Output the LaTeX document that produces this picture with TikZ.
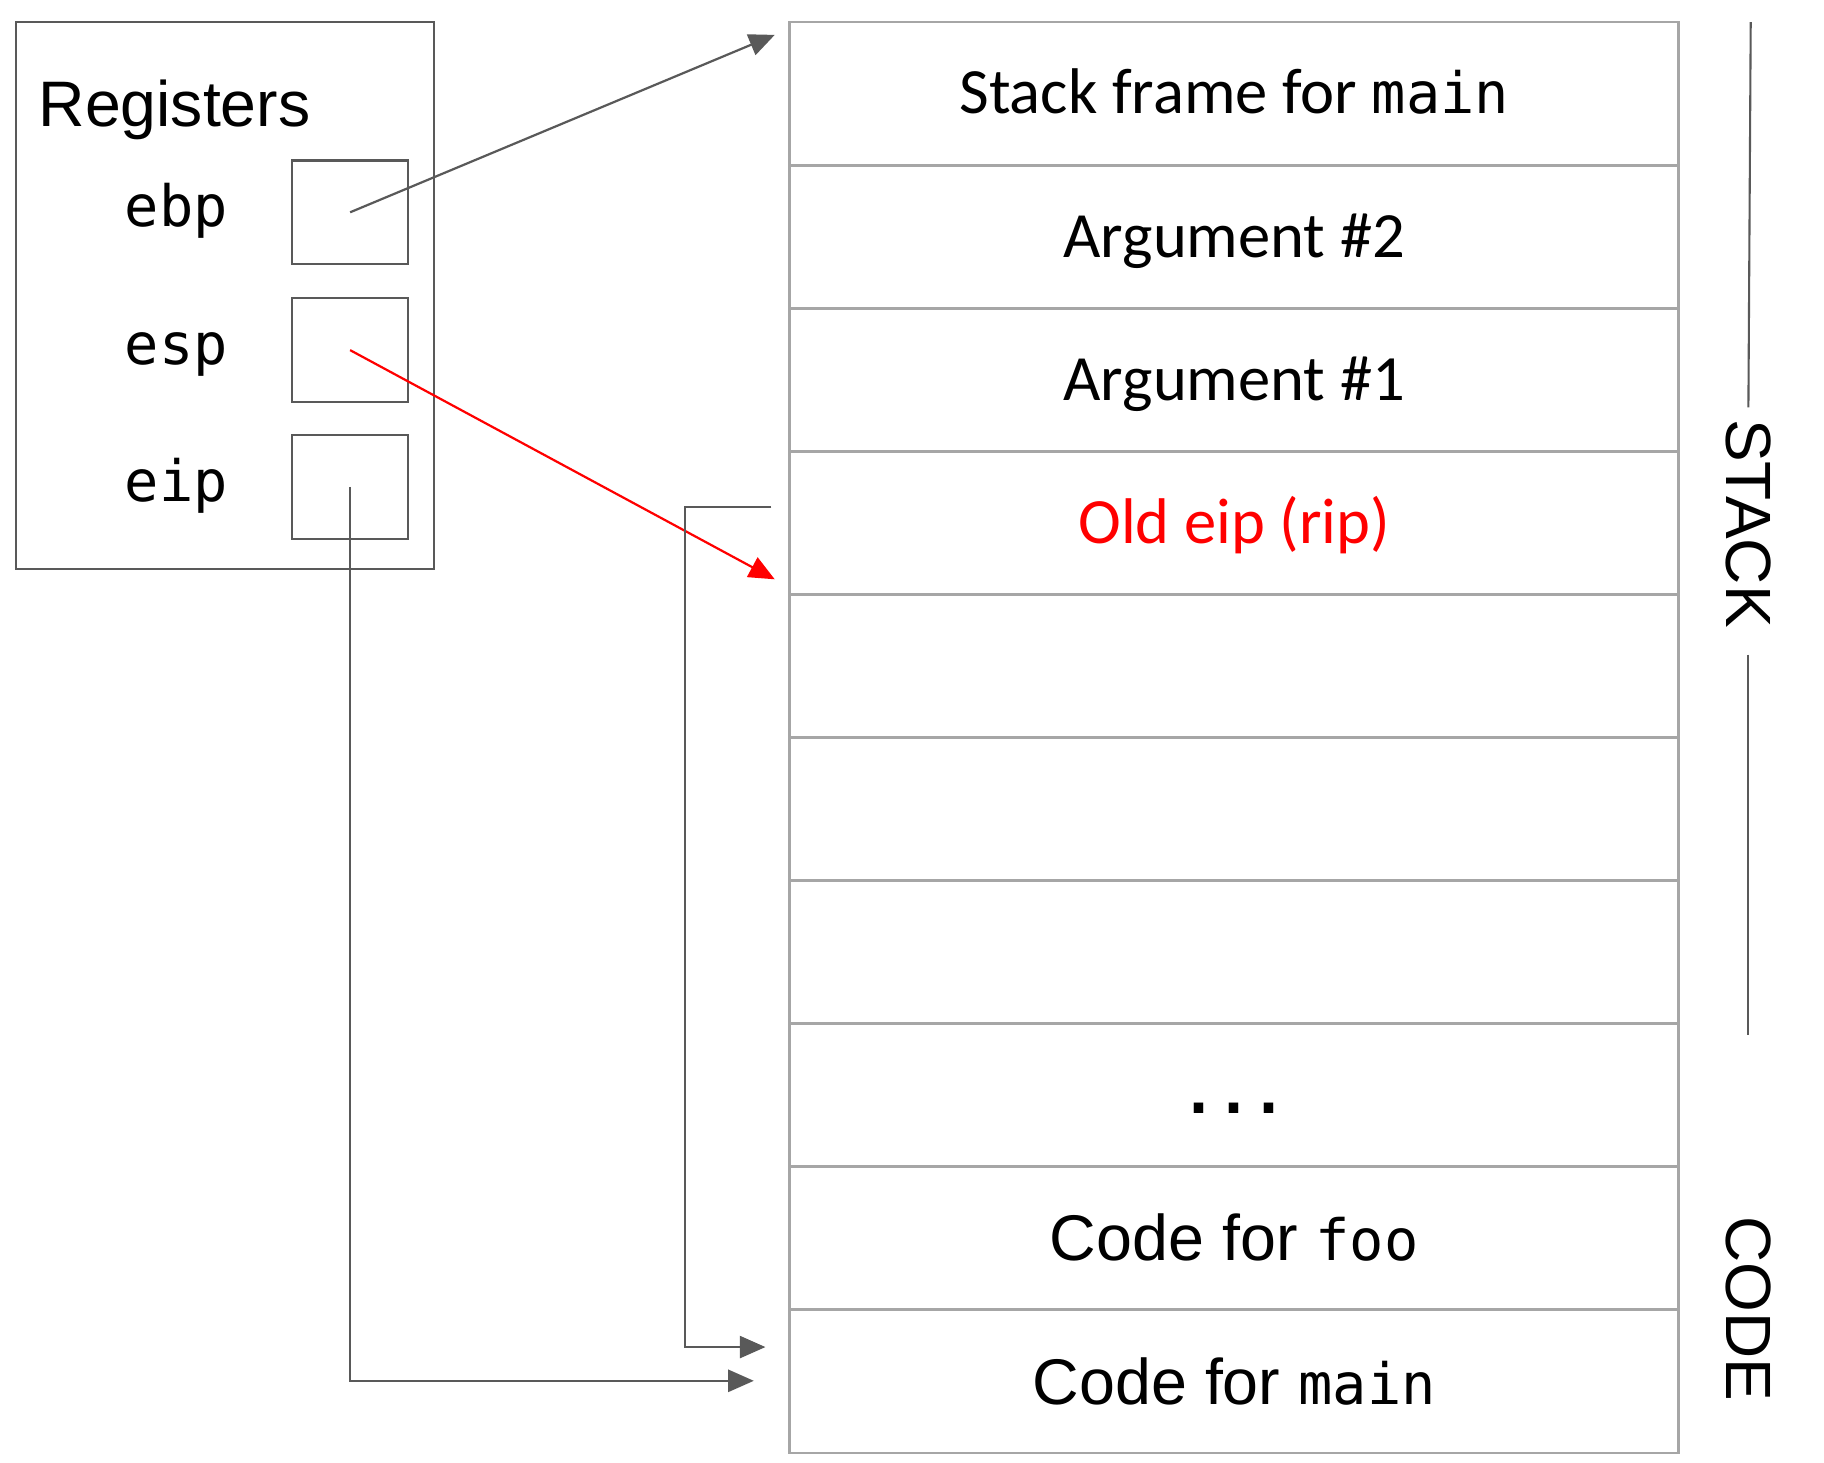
\documentclass[tikz,border=0pt]{standalone}
\usepackage{fontspec}
\setmainfont{Liberation Sans}
\setmonofont{DejaVu Sans Mono}
\newfontfamily\calibrifont{Carlito}
\usetikzlibrary{arrows.meta,positioning}
\definecolor{linegray}{HTML}{595959}
\definecolor{cellgray}{HTML}{A6A6A6}
\newcommand{\cmono}[1]{{\ttfamily\fontsize{49}{55}\selectfont #1}}

\begin{document}
\begin{tikzpicture}[x=1pt,y=-1pt,
    cell/.style={draw=cellgray, line width=2.4pt, minimum width=764pt, minimum height=123pt,
        inner sep=0pt, text height=35pt, text depth=0pt, font=\calibrifont\fontsize{55.5}{60}\selectfont},
    codecell/.style={cell, text height=39pt, font=\fontsize{55.5}{60}\selectfont},
    regbox/.style={draw=linegray, line width=1.8pt, minimum width=100pt, minimum height=89pt, inner sep=0pt},
    reglabel/.style={anchor=base west, inner sep=0pt, font=\ttfamily\fontsize{49}{55}\selectfont},
    side/.style={rotate=-90, inner sep=10pt, font=\fontsize{55}{60}\selectfont},
    ptr/.style={draw=linegray, line width=1.9pt, -{Triangle[length=22pt,width=19pt]}}]
    \useasboundingbox (0,0) rectangle (1568,1257);

    % Registers box
    \node[draw=linegray, line width=1.8pt, minimum width=359pt, minimum height=470pt, inner sep=0pt] (regs) at (193.5,254) {};
    \node[anchor=base west, inner sep=0pt, font=\fontsize{55.3}{60}\selectfont] (regtitle) at (33,109) {Registers};

    % Register names and slots
    \node[reglabel] (ebp) at (107,195) {ebp};
    \node[reglabel] (esp) at (107,313) {esp};
    \node[reglabel] (eip) at (107,431) {eip};
    \node[regbox] (ebpbox) at (301,182.5) {};
    \node[regbox] (espbox) at (301,301) {};
    \node[regbox] (eipbox) at (301,418.5) {};

    % Stack and code cells
    \node[cell] (frame) at (1061,80.5) {Stack frame for \cmono{main}};
    \node[cell] (arg2) at (1061,203.5) {Argument \#2};
    \node[cell] (arg1) at (1061,326.5) {Argument \#1};
    \node[cell, text=red] (oldeip) at (1061,449.5) {Old eip (rip)};
    \node[cell] (free1) at (1061,572.5) {};
    \node[cell] (free2) at (1061,695.5) {};
    \node[cell] (free3) at (1061,818.5) {};
    \node[cell, text height=31pt, font=\ttfamily\bfseries\fontsize{50}{55}\selectfont] (dots) at (1061,941.5) {...};
    \node[codecell] (foo) at (1061,1064.5) {Code for \cmono{foo}};
    \node[codecell] (main) at (1061,1187.5) {Code for \cmono{main}};

    % Side labels
    \node[side] (stack) at (1503,450) {STACK};
    \node[side] (code) at (1503,1125) {CODE};
    \coordinate (stacktop) at (1505,19);
    \coordinate (stackbot) at (1503,890);
    \draw[linegray, line width=1.8pt] (stacktop) -- (stack.west);
    \draw[linegray, line width=1.8pt, shorten <=13pt] (stack.east) -- (stackbot);

    % Pointers
    \coordinate (ebptip) at (666,30);
    \coordinate (esptip) at (666,498);
    \coordinate (eiptip) at (648,1187);
    \coordinate (oldeipstart) at (663,436);
    \coordinate (oldeiptip) at (658,1158);
    \draw[ptr] (ebpbox.center) -- (ebptip);
    \draw[ptr, draw=red] (espbox.center) -- (esptip);
    \draw[ptr] (eipbox.center) |- (eiptip);
    \draw[ptr] (oldeipstart) -- ++(-74,0) |- (oldeiptip);

\end{tikzpicture}
\end{document}
